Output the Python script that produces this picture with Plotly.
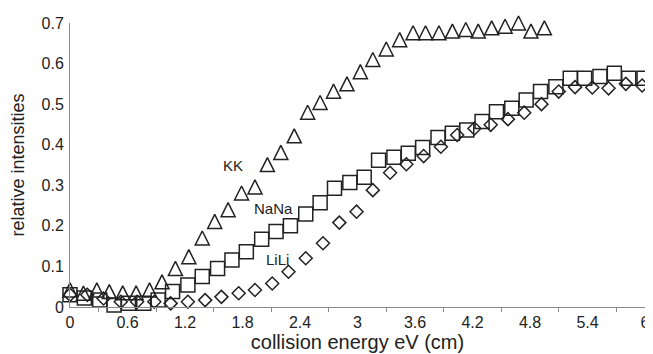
import plotly.graph_objects as go

# ---- data ----
kk_x = [0, 0.14, 0.28, 0.41, 0.55, 0.69, 0.83, 0.96, 1.10, 1.24, 1.38, 1.51, 1.65,
        1.79, 1.93, 2.06, 2.20, 2.34, 2.48, 2.61, 2.75, 2.89, 3.03, 3.16, 3.30, 3.44,
        3.58, 3.71, 3.85, 3.99, 4.13, 4.26, 4.40, 4.54, 4.68, 4.81, 4.95]
kk_y = [0.042, 0.034, 0.042, 0.038, 0.035, 0.035, 0.042, 0.062, 0.095, 0.124, 0.170,
        0.211, 0.240, 0.281, 0.296, 0.351, 0.381, 0.422, 0.480, 0.504, 0.532, 0.550,
        0.580, 0.610, 0.636, 0.659, 0.676, 0.676, 0.676, 0.680, 0.684, 0.680, 0.688,
        0.692, 0.700, 0.680, 0.688]

nana_x = [0, 0.15, 0.31, 0.46, 0.61, 0.77, 0.92, 1.07, 1.23, 1.38, 1.54, 1.69, 1.84,
          2.00, 2.15, 2.30, 2.46, 2.61, 2.76, 2.92, 3.07, 3.22, 3.38, 3.53, 3.68, 3.84,
          3.99, 4.14, 4.30, 4.45, 4.61, 4.76, 4.91, 5.07, 5.22, 5.37, 5.53, 5.68, 5.83, 5.99]
nana_y = [0.030, 0.022, 0.017, 0.005, 0.009, 0.009, 0.017, 0.038, 0.054, 0.075,
          0.095, 0.116, 0.136, 0.167, 0.186, 0.200, 0.229, 0.257, 0.293, 0.307,
          0.320, 0.362, 0.369, 0.379, 0.393, 0.418, 0.428, 0.436, 0.457, 0.481,
          0.490, 0.510, 0.531, 0.543, 0.564, 0.564, 0.568, 0.576, 0.564, 0.564]

lili_x = [0, 0.18, 0.35, 0.53, 0.70, 0.88, 1.05, 1.23, 1.41, 1.58, 1.76, 1.93, 2.11,
          2.28, 2.46, 2.64, 2.81, 2.99, 3.16, 3.34, 3.51, 3.69, 3.87, 4.04, 4.22, 4.39,
          4.57, 4.74, 4.92, 5.10, 5.27, 5.45, 5.62, 5.80, 5.97]
lili_y = [0.030, 0.030, 0.021, 0.013, 0.013, 0.013, 0.009, 0.013, 0.017, 0.025,
          0.034, 0.042, 0.058, 0.087, 0.120, 0.157, 0.208, 0.235, 0.288, 0.331,
          0.352, 0.372, 0.395, 0.424, 0.440, 0.449, 0.463, 0.479, 0.500, 0.531,
          0.542, 0.541, 0.539, 0.550, 0.546]

x_tick_vals = [0, 0.6, 1.2, 1.8, 2.4, 3, 3.6, 4.2, 4.8, 5.4, 6]
x_tick_text = ["0", "0.6", "1.2", "1.8", "2.4", "3", "3.6", "4.2", "4.8", "5.4", "6"]
y_tick_vals = [0, 0.1, 0.2, 0.3, 0.4, 0.5, 0.6, 0.7]
y_tick_text = ["0", "0.1", "0.2", "0.3", "0.4", "0.5", "0.6", "0.7"]

series_labels = ["KK", "NaNa", "LiLi"]
label_pos = [(1.70, 0.348), (2.12, 0.242), (2.17, 0.116)]

FONT = "Liberation Sans, Arial, sans-serif"
INK = "#222222"

fig = go.Figure()

fig.add_trace(go.Scatter(
    x=lili_x, y=lili_y, mode="markers", name="LiLi", cliponaxis=False,
    marker=dict(symbol="diamond-open", size=10, color=INK, line=dict(width=1.5, color=INK)),
))
fig.add_trace(go.Scatter(
    x=nana_x, y=nana_y, mode="markers", name="NaNa", cliponaxis=False,
    marker=dict(symbol="square-open", size=14, color=INK, line=dict(width=1.5, color=INK)),
))
# tall triangle: arrow-down rotated 180 deg, shifted so it is centred on the point
fig.add_trace(go.Scatter(
    x=kk_x, y=kk_y, mode="markers", name="KK", cliponaxis=False,
    marker=dict(symbol="arrow-down-open", size=14, angle=180, standoff=7,
                color=INK, line=dict(width=1.5, color=INK)),
))

for txt, (ax, ay) in zip(series_labels, label_pos):
    fig.add_annotation(x=ax, y=ay, text=txt, showarrow=False,
                       font=dict(family=FONT, size=15, color=INK))

# the page body adds an 8 px offset, so the figure is 8 px smaller on each side
fig.update_layout(
    width=645, height=346,
    margin=dict(l=62, r=8, t=15, b=47),
    paper_bgcolor="white", plot_bgcolor="white",
    showlegend=False,
    font=dict(family=FONT, size=16, color=INK),
)
fig.update_xaxes(
    range=[0, 6], tickvals=x_tick_vals, ticktext=x_tick_text, automargin=False,
    showgrid=False, zeroline=False, showline=True, linecolor="#8a8a8a", linewidth=1,
    ticks="", tickfont=dict(size=16), ticklabelstandoff=1,
    minor=dict(ticks="outside", tick0=0.3, dtick=0.6, ticklen=4, tickcolor="#8a8a8a"),
    title=dict(text="collision energy eV (cm)", font=dict(size=20), standoff=3),
)
fig.update_yaxes(
    range=[0, 0.7], tickvals=y_tick_vals, ticktext=y_tick_text, automargin=False,
    showgrid=False, zeroline=False, showline=True, linecolor="#8a8a8a", linewidth=1,
    ticks="", tickfont=dict(size=16), ticklabelstandoff=2,
    title=dict(text="relative intensities", font=dict(size=18), standoff=15),
)

fig.write_html("out.html")
